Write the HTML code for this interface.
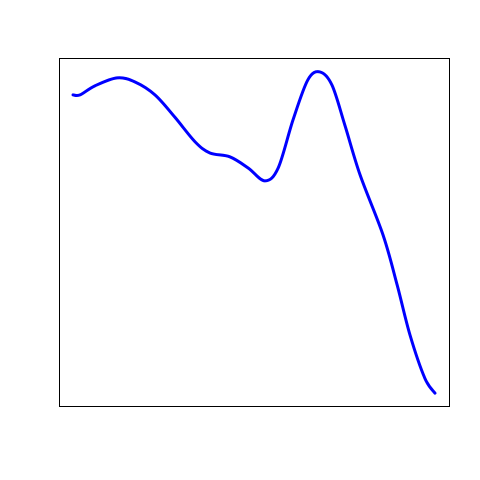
<!DOCTYPE html>
<html>
<head>
<meta charset="utf-8">
<style>
  html, body { margin: 0; padding: 0; background: #fff; }
  svg { display: block; }
</style>
</head>
<body>
<svg id="chart" width="480" height="480" viewBox="0 0 480 480">
  <rect x="59.5" y="58.5" width="390" height="348" fill="none" stroke="#000" stroke-width="1"/>
  <path id="curve" fill="none" stroke="#0000ff" stroke-width="3" stroke-linejoin="round" stroke-linecap="round"/>
</svg>
<script>
const xValues = [3.6, 5.4, 9.2, 14.9, 19.5, 24.6, 29.7, 34.9, 38.7, 43.8, 48.5, 52.8, 56.2, 60, 63.8, 66.9, 70, 73.3, 77.2, 83.1, 86.7, 90, 93.8, 96.4];
const yValues = [89.4, 89.4, 92, 94.3, 93.1, 89.4, 83, 75.9, 72.7, 71.6, 68.4, 64.7, 68.4, 82.2, 93.7, 96, 92.2, 80.7, 66.4, 49.1, 34.8, 20.4, 8, 3.7];

const plot = { left: 59, right: 449, top: 58, bottom: 406 };
const xDomain = [0, 100];
const yDomain = [0, 100];
function xScale(v) { return plot.left + (v - xDomain[0]) / (xDomain[1] - xDomain[0]) * (plot.right - plot.left); }
function yScale(v) { return plot.bottom - (v - yDomain[0]) / (yDomain[1] - yDomain[0]) * (plot.bottom - plot.top); }

const pts = xValues.map((x, i) => [xScale(x), yScale(yValues[i])]);
let d = 'M' + pts[0][0] + ',' + pts[0][1];
for (let i = 0; i < pts.length - 1; i++) {
  const p0 = pts[Math.max(i - 1, 0)], p1 = pts[i], p2 = pts[i + 1], p3 = pts[Math.min(i + 2, pts.length - 1)];
  const c1x = p1[0] + (p2[0] - p0[0]) / 6, c1y = p1[1] + (p2[1] - p0[1]) / 6;
  const c2x = p2[0] - (p3[0] - p1[0]) / 6, c2y = p2[1] - (p3[1] - p1[1]) / 6;
  d += ' C' + c1x + ',' + c1y + ' ' + c2x + ',' + c2y + ' ' + p2[0] + ',' + p2[1];
}
document.getElementById('curve').setAttribute('d', d);
</script>
</body>
</html>
